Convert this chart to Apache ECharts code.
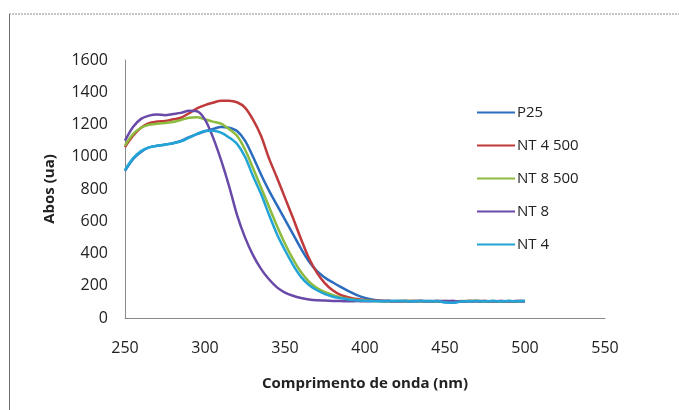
<!DOCTYPE html>
<html>
<head>
<meta charset="utf-8">
<script src="https://cdn.jsdelivr.net/npm/echarts@6/dist/echarts.min.js"></script>
<style>
  html, body { margin: 0; padding: 0; background: #fff; }
  #chart { width: 679px; height: 410px; }
</style>
</head>
<body>
<div id="chart"></div>
<script>
// Wavelength (nm), sampled every 5 nm
const wavelength = [250,255,260,265,270,275,280,285,290,295,300,305,310,315,320,325,330,335,340,345,350,355,360,365,370,375,380,385,390,395,400,405,410,415,420,425,430,435,440,445,450,455,460,465,470,475,480,485,490,495,500];

// Absorbance (ua) per sample
const p25 = [912,985,1030,1058,1068,1076,1084,1098,1122,1140,1158,1172,1185,1180,1160,1100,1000,890,790,700,610,520,430,350,290,250,220,192,165,142,125,113,107,105,106,104,105,106,105,104,98,96,103,104,105,104,105,104,105,104,105];
const nt4_500 = [1060,1130,1180,1208,1218,1222,1232,1242,1270,1300,1320,1335,1348,1348,1338,1305,1230,1130,990,870,745,620,490,370,280,215,170,142,128,118,112,108,106,105,104,105,106,105,104,105,104,105,104,105,106,105,104,105,104,105,104];
const nt8_500 = [1070,1140,1180,1198,1205,1210,1215,1228,1242,1245,1232,1218,1205,1172,1130,1045,930,810,690,570,460,365,285,225,185,160,142,128,118,112,108,106,105,104,105,106,105,104,105,104,105,104,105,106,105,104,105,104,105,104,105];
const nt8 = [1100,1185,1235,1255,1262,1258,1265,1272,1285,1282,1230,1120,980,820,640,500,390,305,240,190,158,138,124,115,110,108,106,105,104,105,104,105,106,105,104,105,104,105,104,105,106,105,104,105,104,105,104,105,104,105,104];
const nt4 = [918,990,1035,1058,1068,1074,1084,1095,1118,1142,1160,1162,1150,1120,1080,1000,880,770,640,520,420,330,255,205,172,148,132,122,115,110,107,105,104,105,106,105,104,105,104,105,97,95,103,104,105,104,105,104,105,104,105];

const seriesNames = ['P25', 'NT 4 500', 'NT 8 500', 'NT 8', 'NT 4'];
const seriesValues = [p25, nt4_500, nt8_500, nt8, nt4];
const seriesColors = ['#2b6cbf', '#c0393b', '#8cbb3e', '#6a4aa8', '#22a4d6'];

const font = '"Open Sans", "Liberation Sans", sans-serif';

const chart = echarts.init(document.getElementById('chart'));
chart.setOption({
  animation: false,
  backgroundColor: '#fff',
  textStyle: { fontFamily: font },
  grid: { left: 125, right: 74, top: 60, bottom: 92 },
  legend: {
    orient: 'vertical',
    left: 472,
    top: 100,
    itemWidth: 38,
    itemHeight: 14,
    itemGap: 18,
    icon: 'path://M0,6 L38,6 L38,8 L0,8 Z',
    textStyle: { fontFamily: font, fontSize: 15, color: '#222', padding: [0, 0, 0, -3] },
    data: seriesNames
  },
  xAxis: {
    type: 'value',
    min: 250, max: 550, interval: 50,
    name: 'Comprimento de onda (nm)',
    nameLocation: 'middle',
    nameGap: 58,
    nameTextStyle: { fontFamily: font, fontSize: 15, fontWeight: 'bold', color: '#222' },
    axisLine: { lineStyle: { color: '#8a8a8a', width: 1 } },
    axisTick: { show: false },
    splitLine: { show: false },
    axisLabel: { fontFamily: font, fontSize: 16, color: '#222', margin: 22 }
  },
  yAxis: {
    type: 'value',
    min: 0, max: 1600, interval: 200,
    name: 'Abos (ua)',
    nameLocation: 'middle',
    nameGap: 68,
    nameRotate: 90,
    nameTextStyle: { fontFamily: font, fontSize: 15, fontWeight: 'bold', color: '#222' },
    axisLine: { show: true, lineStyle: { color: '#8a8a8a', width: 1 } },
    axisTick: { show: false },
    splitLine: { show: false },
    axisLabel: { fontFamily: font, fontSize: 16, color: '#222', margin: 17, formatter: v => String(v) }
  },
  graphic: [
    { type: 'line', shape: { x1: 9, y1: 14, x2: 679, y2: 14 },
      style: { stroke: '#8c8c8c', lineWidth: 1, lineDash: [2, 1] } },
    { type: 'line', shape: { x1: 9.5, y1: 14, x2: 9.5, y2: 410 },
      style: { stroke: '#6f6f6f', lineWidth: 1 } }
  ],
  series: seriesNames.map((name, i) => ({
    name: name,
    type: 'line',
    symbol: 'none',
    smooth: 0.3,
    color: seriesColors[i],
    lineStyle: { width: 2.5, color: seriesColors[i] },
    data: wavelength.map((w, j) => [w, seriesValues[i][j]])
  }))
});
</script>
</body>
</html>
